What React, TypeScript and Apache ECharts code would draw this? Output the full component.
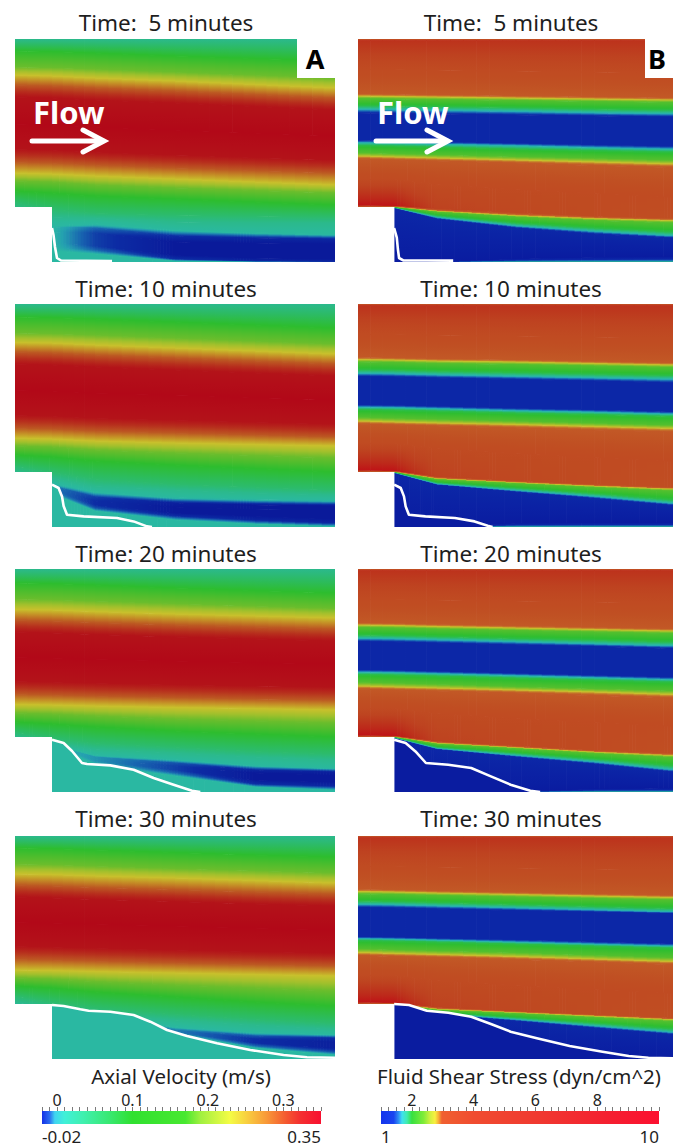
import React, { useEffect, useRef } from "react";
import * as echarts from "echarts";

// ---------- geometry of the simulated domain (panel-local units) ----------
const STATIONS = [0, 37, 80, 160, 240, 320];
const STEP_X = 37;
const STEP_Y = 168;
const DOMAIN_W = 320;
const DOMAIN_H = 223;

// ---------- texts ----------
const TIME_LABELS = ["Time:  5 minutes", "Time: 10 minutes", "Time: 20 minutes", "Time: 30 minutes"];
const PANEL_LETTERS = ["A", "B"];
const VEL_TITLE = "Axial Velocity (m/s)";
const SHEAR_TITLE = "Fluid Shear Stress (dyn/cm^2)";

// ---------- colour bars ----------
const VEL_RANGE = [-0.02, 0.35];
const SHEAR_RANGE = [1, 10];
const VEL_MAJOR_TICKS = [0, 0.1, 0.2, 0.3];
const SHEAR_MAJOR_TICKS = [2, 4, 6, 8];
const VEL_MINOR_STEP = 0.01;
const SHEAR_MINOR_STEP = 0.25;
const VEL_END_LABELS = ["-0.02", "0.35"];
const SHEAR_END_LABELS = ["1", "10"];

const VEL_BAR_CMAP: [number, string][] = [
  [-0.02, "#1430e6"], [-0.01, "#2a6cf0"], [-0.003, "#40d4f0"], [0.01, "#40f0d8"],
  [0.034, "#40f0b0"], [0.07, "#38e870"], [0.1, "#30e030"], [0.17, "#48e830"],
  [0.19, "#a0f040"], [0.229, "#f4fc44"], [0.251, "#f8d040"], [0.278, "#f89838"],
  [0.304, "#f45830"], [0.322, "#f43030"], [0.35, "#f81030"],
];
const SHEAR_BAR_CMAP: [number, string][] = [
  [1.0, "#1434ec"], [1.41, "#1a44f0"], [1.57, "#3090f4"], [1.68, "#40e0f0"],
  [1.84, "#40ecb0"], [2.0, "#38e040"], [2.38, "#80ec38"], [2.59, "#d0f040"],
  [2.75, "#f8f040"], [2.86, "#f8b038"], [2.97, "#f06030"], [4.0, "#f04c30"],
  [6.15, "#f03830"], [8.3, "#f42030"], [10, "#fc1030"],
];
// shaded (lit) colours as they appear on the rendered surfaces
const VEL_PANEL_CMAP: [number, string][] = [
  [-0.02, "#0a1a9a"], [-0.014, "#0c2ca4"], [-0.008, "#1866b0"], [-0.003, "#24a0b0"],
  [0.0, "#2ab8a2"], [0.05, "#2cbb6c"], [0.1, "#2dbd2e"], [0.16, "#6abd2c"],
  [0.2, "#a8c02c"], [0.23, "#c8c02c"], [0.26, "#c48c26"], [0.29, "#bc5822"],
  [0.32, "#b6281c"], [0.35, "#b20818"],
];
const SHEAR_PANEL_CMAP: [number, string][] = [
  [1.0, "#0a1ca0"], [1.4, "#0c28a8"], [1.6, "#1c78b8"], [1.72, "#28b8b0"],
  [2.0, "#2cbe30"], [2.35, "#70c02c"], [2.65, "#c8c02c"], [2.8, "#c67c2a"],
  [2.95, "#c25826"], [4.0, "#c04e22"], [6.0, "#be4220"], [8.0, "#bc2c1a"],
  [10.0, "#c00c16"],
];

// ---------- velocity fields (iso-levels and their depth at each station) ----------
const A1_LEVELS = [0.02, 0.1, 0.16, 0.23, 0.29, 0.34, 0.35, 0.34, 0.29, 0.23, 0.16, 0.1, 0.05, 0.02, 0.005,
  [0, 0, -0.008, -0.014, -0.016, -0.016], [0, 0, -0.012, -0.02, -0.02, -0.02],
  [0, 0, -0.012, -0.02, -0.02, -0.02], [0, 0, -0.008, -0.014, -0.016, -0.016], 0, 0];
const A1_Y = [
  [0, 0, 0, 0, 0, 0], [12, 12.5, 14, 17, 19.5, 22], [28, 28.5, 30, 33, 36, 39],
  [36, 37, 39, 42, 45.5, 49], [46, 47, 49, 52, 55.5, 59], [58, 59, 61, 64, 67.5, 71],
  [85, 86, 88, 91, 94, 97], [110, 111, 113, 116, 118.5, 121], [123, 124, 126, 129, 131.5, 134],
  [134, 135, 137, 140, 143, 146], [142, 143, 146, 149, 151.5, 154], [152, 154, 157, 160, 163, 166],
  [163, 170, 174, 176, 177, 178], [170, 178, 179, 183, 184, 184], [171, 184, 184, 190, 193, 195],
  [172, 188, 189, 197, 199, 200], [173, 193, 194, 203, 204, 205], [174, 203, 207, 216, 219, 220],
  [175, 208, 211, 220, 222, 222.5], [176, 212, 215, 222, 223, 223], [223, 223, 223, 223, 223, 223],
];
const A2_LEVELS = [0.02, 0.1, 0.16, 0.23, 0.29, 0.34, 0.35, 0.34, 0.29, 0.23, 0.16, 0.1, 0.05, 0.02, 0.005,
  [0, -0.006, -0.012, -0.018, -0.02, -0.02], [0, -0.006, -0.014, -0.02, -0.02, -0.02],
  [0, -0.006, -0.014, -0.02, -0.02, -0.02], [0, -0.004, -0.01, -0.014, -0.016, -0.016], 0, 0];
const A2_Y = [
  [0, 0, 0, 0, 0, 0], [13, 13.5, 15, 18, 21, 24], [29, 29.5, 31, 34, 37, 40],
  [38.5, 39, 41, 44, 47, 50], [48, 49, 51, 54, 57, 60], [60, 61, 63, 66, 69, 72],
  [86, 87, 89, 91, 93.5, 96], [111, 112, 114, 116, 118, 120], [124, 125, 127, 129, 131, 133],
  [134, 135, 137, 139, 140.5, 142], [142, 143, 146, 149, 151.5, 154], [151, 153, 157, 161, 164.5, 168],
  [162, 168, 175, 180, 183, 186], [168, 174, 182, 186, 189, 191], [170, 178, 187, 193, 195, 196],
  [171, 182, 193, 199, 201, 202], [172, 184, 197, 203, 205, 206], [173, 186, 201, 209, 212, 215],
  [174, 188, 204, 212, 216, 219], [175, 190, 207, 216, 220, 222.5], [223, 223, 223, 223, 223, 223],
];
const A3_LEVELS = [0.02, 0.1, 0.16, 0.23, 0.29, 0.34, 0.35, 0.34, 0.29, 0.23, 0.16, 0.1, 0.05, 0.02, 0.005,
  [0, 0, -0.004, -0.01, -0.016, -0.018], [0, 0, -0.004, -0.012, -0.02, -0.02],
  [0, 0, -0.004, -0.012, -0.02, -0.02], [0, 0, -0.002, -0.008, -0.014, -0.016], 0, 0];
const A3_Y = [
  [0, 0, 0, 0, 0, 0], [14, 14.5, 16, 19, 21.5, 24], [30, 30.5, 32, 34.5, 37, 39.5],
  [40.5, 41, 42.5, 45, 47, 49], [51, 52, 53.5, 56, 58, 60], [63, 64, 65.5, 68, 70, 72],
  [88, 89, 90, 92, 93.5, 95], [112, 113, 114, 115.5, 117, 118], [125, 126, 127, 128.5, 130, 131],
  [135.5, 136, 137, 138.5, 139.5, 141], [144, 145, 147, 150, 152, 154], [153, 155, 158, 162, 165, 168],
  [163, 169, 174, 178, 182, 185], [168, 174, 180, 184, 188, 191], [170, 176, 185, 190, 196, 199],
  [171, 176, 188, 194, 201, 203], [172, 176, 190, 197, 204, 206], [173, 176, 192, 201, 211, 213],
  [174, 176, 194, 204, 215, 217], [175, 176, 196, 207, 218, 221], [223, 223, 223, 223, 223, 223],
];
const A4_LEVELS = [0.02, 0.1, 0.16, 0.23, 0.29, 0.34, 0.35, 0.34, 0.29, 0.23, 0.16, 0.1, 0.05, 0.02, 0.005,
  [0, 0, 0, -0.004, -0.01, -0.014], [0, 0, 0, -0.006, -0.014, -0.018],
  [0, 0, 0, -0.006, -0.014, -0.018], [0, 0, 0, -0.003, -0.008, -0.01], 0, 0];
const A4_Y = [
  [0, 0, 0, 0, 0, 0], [12, 12.5, 14, 16.5, 19, 21], [28, 28.5, 30, 32.5, 34.5, 37],
  [38, 38.5, 40, 42, 44.5, 47], [49, 50, 51.5, 53.5, 56, 58], [61, 62, 63.5, 65.5, 68, 70],
  [86, 87, 88, 90, 92, 94], [110, 111, 112, 114, 115.5, 117], [123, 124, 125, 127, 128.5, 130],
  [134, 134.5, 135.5, 137, 138.5, 140], [142, 143, 145.5, 149, 152, 155], [150, 152, 156, 161, 166, 170],
  [160, 166, 172, 178, 183, 187], [166, 172, 178, 184, 189, 193], [170, 174, 180, 190, 196, 198],
  [171, 174, 180, 193, 200, 202], [172, 174, 180, 194, 203, 206], [173, 174, 180, 196, 207, 212],
  [174, 174, 180, 197, 210, 216], [175, 174, 180, 198, 212, 219], [223, 223, 223, 223, 223, 223],
];

// ---------- shear-stress fields ----------
const B_LEVELS = [2.2, 7.5, 4.5, 3.0, 2.65, 2.2, 1.95, 1.7, 1.35, 1.35, 1.7, 1.95, 2.2, 2.65, 3.0, 4.5,
  [9.5, 9.5, 6, 5, 4.5, 4], 3.0, 2.65, 2.2, 1.95, 1.7, 1.35, 1.0, 1.8];
const B1_Y = [
  [0, 0, 0, 0, 0, 0], [1.2, 1.2, 1.2, 1.2, 1.2, 1.2], [30, 30, 31, 32, 33, 34],
  [54.5, 55, 55.5, 56.5, 57.5, 58.5], [57, 57.5, 58, 59, 60, 61], [59.5, 60, 60.5, 61.5, 62.5, 63.5],
  [66.5, 67, 67.5, 68.5, 70, 71], [70.5, 71, 71.5, 72.5, 74, 75], [74, 74.5, 75, 76, 77, 78],
  [101, 101.5, 102.5, 104, 105.5, 107], [103.5, 104, 105, 106.5, 108.5, 110], [106.5, 107, 108, 110, 111.5, 113],
  [113.5, 114.5, 115.5, 117.5, 119, 121], [117, 118, 119, 121, 123, 125], [120, 121, 122, 124, 126.5, 128.5],
  [140, 140, 145, 150, 154, 158], [166, 166.5, 169.5, 173.5, 177, 179], [168, 167.5, 171, 175, 178, 180],
  [168, 168, 172, 176.5, 179.5, 181.5], [168, 168, 173, 178, 181.5, 184], [168, 168.5, 176.5, 184, 189, 193],
  [168, 169, 178.5, 187, 192.5, 197], [168, 169.5, 180, 189, 195, 199], [223, 223, 223, 219.5, 218, 217.5],
  [223, 223, 223, 223, 223, 223],
];
const B2_Y = [
  [0, 0, 0, 0, 0, 0], [1.2, 1.2, 1.2, 1.2, 1.2, 1.2], [30, 30, 31, 32, 33, 34],
  [53, 53.5, 54.5, 55.5, 57, 58.5], [55.5, 56, 57, 58, 59.5, 61], [58, 58.5, 59.5, 60.5, 62, 63.5],
  [65.5, 66, 67, 68.5, 70, 71.5], [69.5, 70, 71, 72.5, 74, 75.5], [72.5, 73, 74, 75.5, 77, 79],
  [100.5, 101, 102, 104, 105.5, 107.5], [103, 103.5, 104.5, 106.5, 108, 110], [105.5, 106, 107, 109, 110.5, 112.5],
  [113, 114, 115, 117, 119, 121], [117, 118, 119, 120.5, 122.5, 124.5], [120, 121, 122, 124, 126, 128],
  [139, 139, 144, 149, 153, 157], [166, 166.5, 172.5, 176.5, 180, 183], [168, 167.5, 173.5, 177.5, 181, 184],
  [168, 168, 174.5, 178.5, 182, 185], [168, 168, 175.5, 179.5, 183.5, 187], [168, 168.5, 178.5, 184, 189.5, 196],
  [168, 169, 180, 186.5, 192.5, 199.5], [168, 169.5, 181, 188, 194.5, 201.5], [223, 223, 223, 219, 218.5, 218.5],
  [223, 223, 223, 223, 223, 223],
];
const B3_Y = [
  [0, 0, 0, 0, 0, 0], [1.2, 1.2, 1.2, 1.2, 1.2, 1.2], [30, 30, 31, 32, 33, 34],
  [53.5, 54, 55, 56.5, 58, 59.5], [56, 56.5, 57.5, 59, 60.5, 62], [58.5, 59, 60, 61.5, 63, 64.5],
  [66, 66.5, 67.5, 69.5, 71, 73], [69.5, 70, 71, 73, 75, 77], [72.5, 73, 74, 76, 77.5, 79.5],
  [100.5, 101, 102, 104, 106, 108], [103, 103.5, 104.5, 106.5, 108.5, 110.5], [105.5, 106, 107, 109, 111, 113],
  [113, 114, 115, 117.5, 119.5, 121.5], [117, 118, 119, 121, 123, 125.5], [120, 121, 122, 124, 126.5, 129],
  [139, 139, 144, 149, 153, 157], [166, 166.5, 172, 176.5, 181, 184], [168, 167.5, 173, 177.5, 182, 185],
  [168, 168, 174, 178.5, 183, 186.5], [168, 168, 175, 179.5, 184.5, 188.5], [168, 168.5, 178, 184, 190, 197],
  [168, 169, 179.5, 186.5, 193, 201], [168, 169.5, 180.5, 188, 195, 203], [223, 223, 223, 223, 219.5, 219],
  [223, 223, 223, 223, 223, 223],
];
const B4_Y = [
  [0, 0, 0, 0, 0, 0], [1.2, 1.2, 1.2, 1.2, 1.2, 1.2], [30, 30, 31, 32, 33, 34],
  [53, 53.5, 54.5, 56, 57.5, 59], [55.5, 56, 57, 58.5, 60, 61.5], [58, 58.5, 59.5, 61, 62.5, 64],
  [65, 65.5, 66.5, 68.5, 70.5, 72.5], [68.5, 69, 70, 72, 74, 76], [71.5, 72, 73, 74.5, 76, 77.5],
  [100.5, 101, 102, 103.5, 105.5, 107.5], [102.5, 103, 104, 106, 108, 110], [104.5, 105, 106, 108, 110, 112],
  [112.5, 113.5, 114.5, 116.5, 119, 121.5], [116.5, 117.5, 118.5, 120.5, 123, 125.5], [119.5, 120.5, 121.5, 123.5, 126, 128.5],
  [139, 139, 144, 149, 153, 157], [166, 166.5, 171, 175, 178.5, 181.5], [168, 167.5, 172, 175.5, 179, 182.5],
  [168, 168, 173, 176.5, 180, 183.5], [168, 168, 174, 177.5, 181.5, 185.5], [168, 168.5, 176.5, 181.5, 187, 193],
  [168, 169, 177.5, 183.5, 190, 196.5], [168, 169.5, 178.5, 185, 192, 198.5], [223, 223, 223, 223, 223, 223],
  [223, 223, 223, 223, 223, 223],
];

// ---------- thrombus boundaries ----------
const A1_CLOT = [[37, 189], [38.5, 196], [40, 208], [42, 219], [46, 221.5], [97, 222]];
const B1_CLOT = [[36.7, 189], [39.4, 198.7], [40.5, 210], [41.7, 219], [46, 221.4], [70, 221.5], [96.7, 221.6]];
const A2_CLOT = [[37, 180.7], [43.6, 184], [47, 192.4], [48.6, 202], [52, 210.7], [68.6, 212.4], [102, 214], [118.6, 217.4], [132, 222.4], [137, 223]];
const B2_CLOT = [[36.7, 180.7], [43.4, 184], [46.7, 192.4], [48.4, 202.4], [51.7, 210.7], [68.4, 212.4], [98.4, 214], [118.4, 217.4], [131.7, 221.7], [136.7, 223]];
const A3_CLOT = [[37, 170.7], [48.6, 174], [57, 182], [67, 194], [72, 195], [95.3, 196.4], [118.6, 200.7], [138.6, 209], [158.6, 215.7], [177, 221.7], [185.3, 223]];
const B3_CLOT = [[36.7, 170.7], [48.4, 174], [58.4, 182.4], [69, 194], [91.7, 195.7], [115, 199], [135, 207.4], [155, 215.7], [175, 221.7], [185, 223]];
const A4_CLOT = [[37, 169], [48.6, 170], [65.3, 173.3], [73.6, 174.7], [95.3, 175.7], [118.6, 179], [135.3, 185.7], [152, 194], [172, 200], [202, 207.3], [235.3, 214], [268.6, 219], [292, 221.3], [320, 221.7]];
const B4_CLOT = [[36.7, 168], [51.7, 169], [70, 174.7], [91.7, 176.7], [115, 180.7], [135, 188], [155, 195.7], [181.7, 202.3], [215, 210], [248.4, 215.7], [275, 220], [295, 221.7], [320, 222.3]];

// ---------- layout ----------
const COL_LEFT = [15, 358];
const ROW_TOP = [39, 304, 569, 836];
const TITLE_X = [166, 511];
const TITLE_Y = [22, 288, 553, 818];
const FONT = "Noto Sans";

type Level = number | number[];
interface Panel { col: number; row: number; levels: Level[]; ys: number[][]; clot: number[][]; kind: "vel" | "shear"; }

const PANELS: Panel[] = [
  { col: 0, row: 0, levels: A1_LEVELS, ys: A1_Y, clot: A1_CLOT, kind: "vel" },
  { col: 1, row: 0, levels: B_LEVELS, ys: B1_Y, clot: B1_CLOT, kind: "shear" },
  { col: 0, row: 1, levels: A2_LEVELS, ys: A2_Y, clot: A2_CLOT, kind: "vel" },
  { col: 1, row: 1, levels: B_LEVELS, ys: B2_Y, clot: B2_CLOT, kind: "shear" },
  { col: 0, row: 2, levels: A3_LEVELS, ys: A3_Y, clot: A3_CLOT, kind: "vel" },
  { col: 1, row: 2, levels: B_LEVELS, ys: B3_Y, clot: B3_CLOT, kind: "shear" },
  { col: 0, row: 3, levels: A4_LEVELS, ys: A4_Y, clot: A4_CLOT, kind: "vel" },
  { col: 1, row: 3, levels: B_LEVELS, ys: B4_Y, clot: B4_CLOT, kind: "shear" },
];

function hexRgb(h: string): number[] {
  return [parseInt(h.slice(1, 3), 16), parseInt(h.slice(3, 5), 16), parseInt(h.slice(5, 7), 16)];
}
function colorAt(cmap: [number, string][], v: number): string {
  let c: number[];
  if (v <= cmap[0][0]) c = hexRgb(cmap[0][1]);
  else if (v >= cmap[cmap.length - 1][0]) c = hexRgb(cmap[cmap.length - 1][1]);
  else {
    c = hexRgb(cmap[cmap.length - 1][1]);
    for (let i = 0; i < cmap.length - 1; i++) {
      if (v <= cmap[i + 1][0]) {
        const t = (v - cmap[i][0]) / (cmap[i + 1][0] - cmap[i][0]);
        const a = hexRgb(cmap[i][1]), b = hexRgb(cmap[i + 1][1]);
        c = [0, 1, 2].map((k) => a[k] + (b[k] - a[k]) * t);
        break;
      }
    }
  }
  return `rgb(${Math.round(c[0])},${Math.round(c[1])},${Math.round(c[2])})`;
}

function bandSeries(gi: number, levels: Level[], ys: number[][], cmap: [number, string][]) {
  const data: number[][] = [];
  for (let i = 0; i < levels.length - 1; i++) data.push([i]);
  return {
    type: "custom", xAxisIndex: gi, yAxisIndex: gi, clip: true, silent: true, z: 2, data,
    renderItem: (_p: any, api: any) => {
      const i = api.value(0);
      const lt = levels[i], lb = levels[i + 1];
      const yt = ys[i], yb = ys[i + 1];
      const children: any[] = [];
      for (let j = 0; j < STATIONS.length - 1; j++) {
        const x0 = STATIONS[j], x1 = STATIONS[j + 1];
        if (yb[j] - yt[j] < 0.01 && yb[j + 1] - yt[j + 1] < 0.01) continue;
        const slope = Math.max(Math.abs(yt[j + 1] - yt[j]), Math.abs(yb[j + 1] - yb[j])) / (x1 - x0);
        let w = slope > 0.04 ? Math.max(1.5, 0.5 / slope) : 14;
        const varies = (l: Level) => typeof l !== "number" && l[j] !== l[j + 1];
        if (varies(lt) || varies(lb)) w = Math.min(w, 3);
        const n = Math.max(1, Math.ceil((x1 - x0) / w));
        const lerp = (a: number[], t: number) => a[j] + (a[j + 1] - a[j]) * t;
        const val = (l: Level, t: number) => (typeof l === "number" ? l : lerp(l, t));
        for (let k = 0; k < n; k++) {
          const t0 = k / n, t1 = (k + 1) / n, tm = (k + 0.5) / n;
          const ya0 = lerp(yt, t0), ya1 = lerp(yt, t1), yb0 = lerp(yb, t0), yb1 = lerp(yb, t1);
          if (yb0 - ya0 < 0.01 && yb1 - ya1 < 0.01) continue;
          const xa = x0 + (x1 - x0) * t0, xb = x0 + (x1 - x0) * t1, xm = (xa + xb) / 2;
          const p1 = api.coord([xa, ya0]), p2 = api.coord([xb, ya1]);
          const p3 = api.coord([xb, yb1]), p4 = api.coord([xa, yb0]);
          const pts = [[p1[0], p1[1]], [p2[0] + 0.7, p2[1]], [p3[0] + 0.7, p3[1] + 0.7], [p4[0], p4[1] + 0.7]];
          const gy0 = api.coord([xm, lerp(yt, tm)])[1];
          let gy1 = api.coord([xm, lerp(yb, tm)])[1];
          if (gy1 - gy0 < 0.05) gy1 = gy0 + 0.05;
          const vt = val(lt, tm), vb = val(lb, tm);
          const stops = [];
          for (let s = 0; s <= 4; s++) stops.push({ offset: s / 4, color: colorAt(cmap, vt + ((vb - vt) * s) / 4) });
          const gx = (p1[0] + p2[0]) / 2;
          children.push({
            type: "polygon", shape: { points: pts },
            style: { fill: new echarts.graphic.LinearGradient(gx, gy0, gx, gy1, stops, true) },
          });
        }
      }
      return { type: "group", children };
    },
  };
}

function clotSeries(gi: number, clot: number[][], fill: string) {
  return {
    type: "custom", xAxisIndex: gi, yAxisIndex: gi, clip: true, silent: true, z: 3, data: [[0]],
    renderItem: (_p: any, api: any) => {
      const line = clot.map((q) => api.coord(q));
      const last = clot[clot.length - 1];
      const poly = line.concat([api.coord([last[0], DOMAIN_H]), api.coord([STEP_X, DOMAIN_H])]);
      const s0 = api.coord([0, STEP_Y]), s1 = api.coord([STEP_X, DOMAIN_H]);
      return {
        type: "group",
        children: [
          { type: "polygon", shape: { points: poly }, style: { fill } },
          { type: "rect", shape: { x: s0[0] - 1, y: s0[1], width: s1[0] - s0[0] + 1, height: s1[1] - s0[1] + 2 }, style: { fill: "#ffffff" } },
          { type: "polyline", shape: { points: line }, style: { stroke: "#ffffff", lineWidth: 2.6, fill: null, lineJoin: "round" } },
        ],
      };
    },
  };
}

function colorbarSeries(gi: number, xi: number, range: number[], cmap: [number, string][]) {
  return {
    type: "custom", xAxisIndex: xi, yAxisIndex: gi, silent: true, data: [[0]],
    renderItem: (_p: any, api: any) => {
      const p0 = api.coord([range[0], 1]), p1 = api.coord([range[1], 0]);
      const stops = cmap.map(([v, c]) => ({ offset: (v - range[0]) / (range[1] - range[0]), color: c }));
      return {
        type: "rect", shape: { x: p0[0], y: p0[1], width: p1[0] - p0[0], height: p1[1] - p0[1] },
        style: { fill: new echarts.graphic.LinearGradient(0, 0, 1, 0, stops) },
      };
    },
  };
}

function buildOption() {
  const grid: any[] = [], xAxis: any[] = [], yAxis: any[] = [], series: any[] = [];
  PANELS.forEach((p, idx) => {
    grid.push({ left: COL_LEFT[p.col], top: ROW_TOP[p.row], width: DOMAIN_W, height: DOMAIN_H });
    xAxis.push({ type: "value", gridIndex: idx, min: 0, max: DOMAIN_W, show: false });
    yAxis.push({ type: "value", gridIndex: idx, min: 0, max: DOMAIN_H, inverse: true, show: false });
    const cmap = p.kind === "vel" ? VEL_PANEL_CMAP : SHEAR_PANEL_CMAP;
    series.push(bandSeries(idx, p.levels, p.ys, cmap));
    series.push(clotSeries(idx, p.clot, p.kind === "vel" ? colorAt(VEL_PANEL_CMAP, 0) : colorAt(SHEAR_PANEL_CMAP, 1)));
  });
  // colour bars
  grid.push({ left: 42, top: 1111, width: 279, height: 13 });
  grid.push({ left: 381, top: 1111, width: 278, height: 13 });
  const tickStyle = { color: "#7a7a7a", width: 1 };
  const majorAxis = (gi: number, range: number[], ticks: number[]) => ({
    type: "value", gridIndex: gi, min: range[0], max: range[1], position: "top",
    axisLine: { show: false }, splitLine: { show: false },
    axisTick: { show: true, customValues: ticks, length: 7, lineStyle: tickStyle },
    axisLabel: { show: true, customValues: ticks, margin: 3, fontSize: 16, color: "#222", fontFamily: FONT, formatter: (v: number) => String(v) },
  });
  const minorAxis = (gi: number, range: number[], step: number) => ({
    type: "value", gridIndex: gi, min: range[0], max: range[1], interval: step, position: "top",
    axisLine: { show: false }, splitLine: { show: false },
    axisTick: { show: true, length: 4, lineStyle: tickStyle }, axisLabel: { show: false },
  });
  xAxis.push(majorAxis(8, VEL_RANGE, VEL_MAJOR_TICKS));
  xAxis.push(minorAxis(8, VEL_RANGE, VEL_MINOR_STEP));
  xAxis.push(majorAxis(9, SHEAR_RANGE, SHEAR_MAJOR_TICKS));
  xAxis.push(minorAxis(9, SHEAR_RANGE, SHEAR_MINOR_STEP));
  yAxis.push({ type: "value", gridIndex: 8, min: 0, max: 1, show: false });
  yAxis.push({ type: "value", gridIndex: 9, min: 0, max: 1, show: false });
  series.push(colorbarSeries(8, 8, VEL_RANGE, VEL_BAR_CMAP));
  series.push(colorbarSeries(9, 10, SHEAR_RANGE, SHEAR_BAR_CMAP));

  const txt = (text: string, x: number, y: number, size: number, opts: any = {}) => ({
    type: "text", x, y, z: 100, silent: true,
    style: { text, fontSize: size, fontFamily: FONT, fill: opts.fill || "#1e1e1e", fontWeight: opts.weight || "normal", textAlign: opts.align || "center", textVerticalAlign: "middle" },
  });
  const graphic: any[] = [];
  ROW_TOP.forEach((_t, r) => {
    graphic.push(txt(TIME_LABELS[r], TITLE_X[0], TITLE_Y[r], 22.5));
    graphic.push(txt(TIME_LABELS[r], TITLE_X[1], TITLE_Y[r], 22.5));
  });
  // letter boxes
  graphic.push({ type: "rect", z: 100, silent: true, shape: { x: 297, y: 38, width: 40, height: 40 }, style: { fill: "#fff" } });
  graphic.push({ type: "rect", z: 100, silent: true, shape: { x: 645, y: 38, width: 30, height: 40 }, style: { fill: "#fff" } });
  graphic.push(txt(PANEL_LETTERS[0], 315, 58, 27, { weight: "bold", fill: "#000" }));
  graphic.push(txt(PANEL_LETTERS[1], 648, 58, 27, { weight: "bold", fill: "#000", align: "left" }));
  // flow annotations
  [[33, 32], [377, 376]].forEach(([tx, ax]) => {
    graphic.push(txt("Flow", tx, 111.5, 31, { weight: "bold", fill: "#fff", align: "left" }));
    graphic.push({ type: "line", z: 100, silent: true, shape: { x1: ax, y1: 141, x2: ax + 69, y2: 141 }, style: { stroke: "#fff", lineWidth: 5, lineCap: "round" } });
    graphic.push({ type: "polyline", z: 100, silent: true, shape: { points: [[ax + 51, 130], [ax + 72, 141], [ax + 51, 152]] }, style: { stroke: "#fff", lineWidth: 5, lineCap: "round", lineJoin: "miter", fill: null } });
  });
  // colour-bar titles and end labels
  graphic.push(txt(VEL_TITLE, 181, 1076, 20.5));
  graphic.push(txt(SHEAR_TITLE, 519, 1076, 20.5));
  graphic.push(txt(VEL_END_LABELS[0], 42, 1136, 17, { align: "left" }));
  graphic.push(txt(VEL_END_LABELS[1], 321, 1136, 17, { align: "right" }));
  graphic.push(txt(SHEAR_END_LABELS[0], 381, 1136, 17, { align: "left" }));
  graphic.push(txt(SHEAR_END_LABELS[1], 659, 1136, 17, { align: "right" }));

  return { animation: false, backgroundColor: "#ffffff", grid, xAxis, yAxis, series, graphic };
}

export default function App() {
  const ref = useRef<HTMLDivElement>(null);
  useEffect(() => {
    document.body.style.margin = "0";
    const chart = echarts.init(ref.current!, undefined, { renderer: "svg" });
    chart.setOption(buildOption() as any);
    return () => chart.dispose();
  }, []);
  return <div ref={ref} style={{ width: 673, height: 1148 }} />;
}
